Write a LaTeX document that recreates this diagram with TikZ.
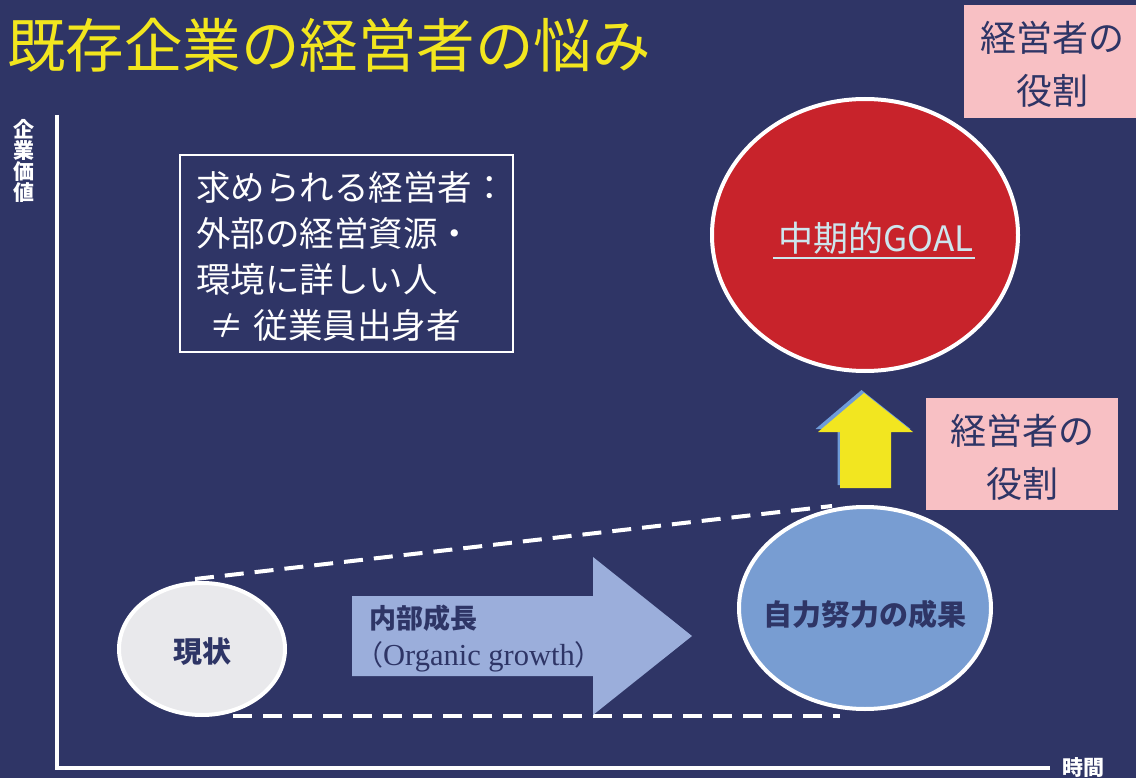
\documentclass[tikz,border=0pt]{standalone}
\usepackage{fontspec}
\usetikzlibrary{shapes.geometric}
\newfontfamily\jp{Noto Sans CJK JP}
\newfontfamily\serifen{Liberation Serif}
\definecolor{bg}{HTML}{2F3566}
\definecolor{navy}{HTML}{2E3566}
\definecolor{ttl}{HTML}{F2E61E}
\definecolor{goalred}{HTML}{C8232B}
\definecolor{goaltext}{HTML}{CDE6EE}
\definecolor{pink}{HTML}{F8C0C4}
\definecolor{resblue}{HTML}{789DD2}
\definecolor{nowfill}{HTML}{E9E9EC}
\definecolor{arrowblue}{HTML}{9BAEDB}
\definecolor{shadowblue}{HTML}{6E9BD8}
\definecolor{yarrow}{HTML}{F2E620}
\tikzset{
  axisline/.style={white, line width=3.5pt, line join=miter},
  dashline/.style={white, line width=4pt, dash pattern=on 19pt off 11pt},
  bubble/.style={ellipse, draw=white, line width=4pt, inner sep=0pt},
  pinkbox/.style={fill=pink, inner sep=0pt},
  pinktext/.style={text=navy, align=center, inner sep=0pt, font=\jp\fontsize{36}{53}\selectfont},
  axislabel/.style={text=white, align=center, inner sep=0pt, font=\jp\bfseries\fontsize{21}{21}\selectfont},
}
\begin{document}
\begin{tikzpicture}[x=1pt,y=-1pt]
\fill[bg] (0,0) rectangle (1136,778);
\useasboundingbox (0,0) rectangle (1136,778);

% title
\node[anchor=west, text=ttl, inner sep=0pt, font=\jp\fontsize{58.5}{60}\selectfont] (title) at (7,45) {既存企業の経営者の悩み};

% axes
\coordinate (ytop) at (57,115);
\coordinate (origin) at (57,768);
\coordinate (xend) at (1050,768);
\draw[axisline] (ytop) -- (origin) -- (xend);
\node[axislabel] (ylab) at (24,161) {企\\業\\価\\値};
\node[axislabel] (xlab) at (1083,768) {時間};

% requirement box
\node[draw=white, line width=2pt, minimum width=333pt, minimum height=197pt, inner sep=0pt] (req) at (346.5,253.5) {};
\node[anchor=west, align=left, text=white, inner sep=0pt, font=\jp\fontsize{34.5}{46}\selectfont] (reqtxt) at (196,256)
 {求められる経営者：\\外部の経営資源・\\環境に詳しい人\\\hspace*{13pt}≠\hspace{10pt}従業員出身者};

% dashed guide lines
\coordinate (d1s) at (195,579);
\coordinate (d1e) at (832,506);
\coordinate (d2s) at (233,716);
\coordinate (d2e) at (840,716);
\draw[dashline] (d1s) -- (d1e);
\draw[dashline] (d2s) -- (d2e);

% goal ellipse
\node[bubble, fill=goalred, minimum width=306pt, minimum height=272pt] (goal) at (865,235) {};
\node[text=goaltext, inner sep=0pt, font=\jp\fontsize{35}{35}\selectfont] (goaltxt) at (876,238) {中期的GOAL};
\draw[goaltext, line width=2pt] ([shift={(-5,4)}]goaltxt.south west) -- ([shift={(1,4)}]goaltxt.south east);

% pink role boxes
\node[pinkbox, minimum width=172pt, minimum height=113pt] (role1) at (1050,61.5) {};
\node[pinktext] (role1txt) at (1052,64) {経営者の\\役割};
\node[pinkbox, minimum width=192pt, minimum height=112pt] (role2) at (1022,454) {};
\node[pinktext] (role2txt) at (1022,457) {経営者の\\役割};

% yellow arrow with shadow
\fill[shadowblue, shift={(-2.5,-3)}] (840,488) -- (840,432) -- (818,432) -- (864,393) -- (913,432) -- (891,432) -- (891,488) -- cycle;
\fill[yarrow] (840,488) -- (840,432) -- (818,432) -- (864,393) -- (913,432) -- (891,432) -- (891,488) -- cycle;

% big growth arrow
\fill[arrowblue] (352,596) -- (593,596) -- (593,557) -- (692,636) -- (593,715) -- (593,676) -- (352,676) -- cycle;
\node[anchor=west, text=navy, inner sep=0pt, font=\jp\bfseries\fontsize{27}{27}\selectfont] (inner) at (369,618) {内部成長};
\node[anchor=west, text=navy, inner sep=0pt, font=\jp\fontsize{28}{28}\selectfont] (organic) at (355,657) {（{\serifen\fontsize{30.5}{30.5}\selectfont Organic growth}）};

% current state
\node[bubble, fill=nowfill, minimum width=166pt, minimum height=132pt] (now) at (202,649) {};
\node[text=navy, inner sep=0pt, font=\jp\bfseries\fontsize{29}{29}\selectfont] (nowtxt) at (202,652) {現状};

% own-effort result
\node[bubble, fill=resblue, minimum width=252pt, minimum height=202pt] (res) at (865,608) {};
\node[text=navy, inner sep=0pt, font=\jp\bfseries\fontsize{29}{29}\selectfont] (restxt) at (865,614) {自力努力の成果};
\end{tikzpicture}
\end{document}
